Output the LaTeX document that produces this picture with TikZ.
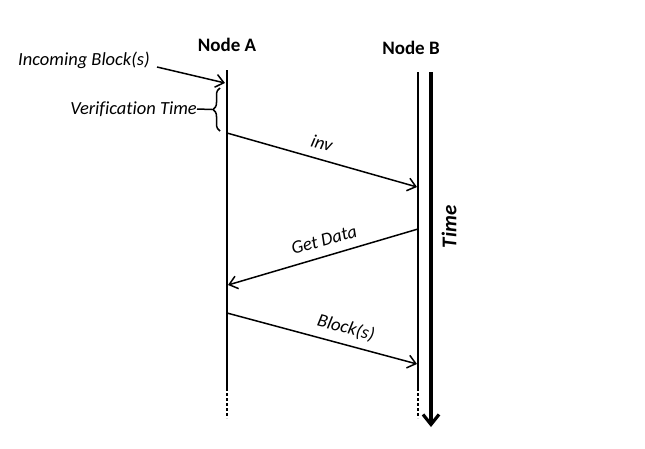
\documentclass[tikz,border=0pt]{standalone}
\usepackage{fontspec}
\setmainfont{Carlito}[Ligatures=NoCommon]
\usetikzlibrary{arrows.meta,decorations.pathreplacing}
\begin{document}
\begin{tikzpicture}[x=1pt,y=-1pt,
  life/.style={line width=1.6pt},
  dots/.style={line width=2.8pt, dash pattern=on 3pt off 2pt},
  msg/.style={line width=1.5pt, -{Straight Barb[length=8pt,width=13pt,line width=1.5pt]}},
  lbl/.style={font=\fontsize{18.5}{22}\selectfont\itshape, inner sep=0pt},
  hdr/.style={font=\fontsize{19}{22}\selectfont\bfseries}]
\useasboundingbox (0,0) rectangle (645,448);
% headers
\node[hdr] (nA) at (227,45) {Node A};
\node[hdr] (nB) at (411,48) {Node B};
% lifelines
\coordinate (aTop) at (227,70);
\coordinate (aEnd) at (227,388);
\coordinate (aDot) at (227,418);
\coordinate (bTop) at (418,72);
\coordinate (bEnd) at (418,388);
\coordinate (bDot) at (418,418);
\draw[life] (aTop) -- (aEnd);
\draw[dots] (aEnd) -- (aDot);
\draw[life] (bTop) -- (bEnd);
\draw[dots] (bEnd) -- (bDot);
% time arrow
\coordinate (tTop) at (431,72);
\coordinate (tEnd) at (431,427);
\draw[line width=3.2pt, -{Straight Barb[length=10pt,width=16pt,line width=3.2pt]}] (tTop) -- (tEnd);
\node[font=\fontsize{21}{24}\selectfont\bfseries\itshape, rotate=90, inner sep=0pt] (time) at (449,227) {Time};
% incoming
\node[lbl] (inc) at (84,60) {Incoming Block(s)};
\coordinate (incEnd) at (225,83);
\coordinate (incStart) at (157,67);
\draw[msg] (incStart) -- (incEnd);
% verification brace
\coordinate (brTop) at (220,88);
\coordinate (brBot) at (220,131);
\draw[line width=1.5pt, decorate, decoration={brace, amplitude=7pt}] (brBot) -- (brTop);
\node[lbl, anchor=east] (ver) at (197,109) {Verification Time};
\coordinate (brTip) at (212,109.5);
\draw[line width=1.5pt] (ver.east) -- (brTip);
% messages
\coordinate (m1s) at (227,133);
\coordinate (m1e) at (417,187);
\draw[msg] (m1s) -- (m1e);
\node[lbl, rotate=-16] (inv) at (322,143) {inv};
\coordinate (m2s) at (418,229);
\coordinate (m2e) at (228,285);
\draw[msg] (m2s) -- (m2e);
\node[lbl, rotate=16] (gd) at (324,240) {Get Data};
\coordinate (m3s) at (227,313);
\coordinate (m3e) at (417,364);
\draw[msg] (m3s) -- (m3e);
\node[lbl, rotate=-15] (blk) at (346,328) {Block(s)};
\end{tikzpicture}
\end{document}
